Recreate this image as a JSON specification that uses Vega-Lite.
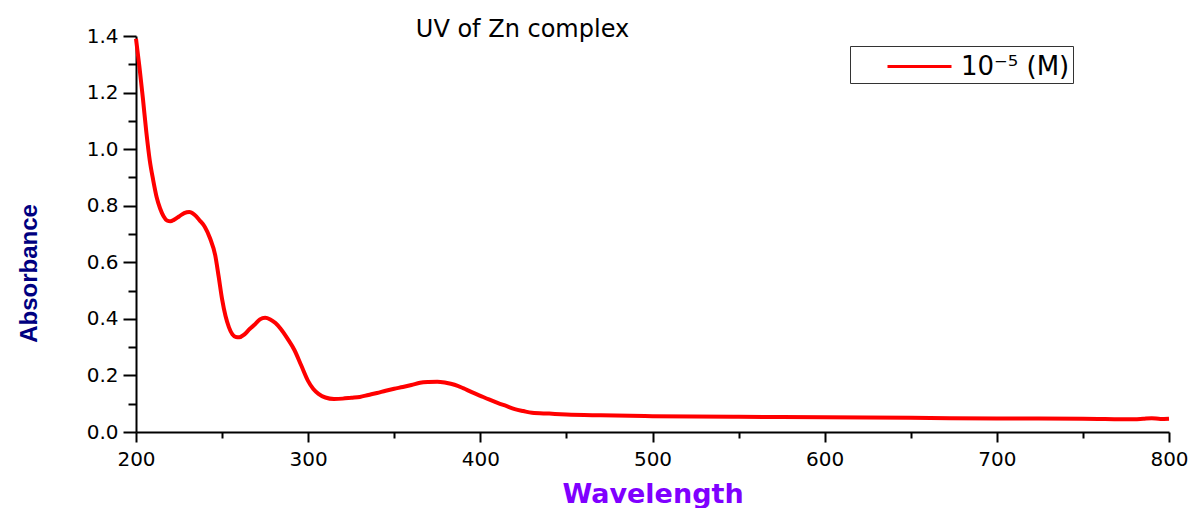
{
  "$schema": "https://vega.github.io/schema/vega-lite/v6.json",
  "width": 1033,
  "height": 396,
  "autosize": "none",
  "padding": {"left": 136, "top": 36, "right": 27, "bottom": 76},
  "background": "white",
  "title": {
    "text": "UV of Zn complex",
    "font": "DejaVu Sans",
    "fontSize": 24,
    "fontWeight": "normal",
    "color": "black",
    "anchor": "middle",
    "dx": -130,
    "offset": -16
  },
  "data": {
    "values": [
      {"w": 200, "a": 1.39}, {"w": 202, "a": 1.29}, {"w": 204, "a": 1.18}, {"w": 206, "a": 1.06},
      {"w": 208, "a": 0.96}, {"w": 210, "a": 0.89}, {"w": 212, "a": 0.83}, {"w": 214, "a": 0.79},
      {"w": 216, "a": 0.763}, {"w": 218, "a": 0.748}, {"w": 220, "a": 0.745}, {"w": 222, "a": 0.75},
      {"w": 225, "a": 0.762}, {"w": 228, "a": 0.774}, {"w": 231, "a": 0.778}, {"w": 234, "a": 0.768},
      {"w": 237, "a": 0.748}, {"w": 240, "a": 0.725}, {"w": 243, "a": 0.685}, {"w": 246, "a": 0.625},
      {"w": 248, "a": 0.55}, {"w": 250, "a": 0.47}, {"w": 252, "a": 0.41}, {"w": 254, "a": 0.37},
      {"w": 256, "a": 0.345}, {"w": 258, "a": 0.336}, {"w": 260, "a": 0.335}, {"w": 263, "a": 0.345},
      {"w": 266, "a": 0.364}, {"w": 269, "a": 0.38}, {"w": 272, "a": 0.398}, {"w": 275, "a": 0.404},
      {"w": 278, "a": 0.398}, {"w": 281, "a": 0.385}, {"w": 284, "a": 0.365}, {"w": 288, "a": 0.33},
      {"w": 292, "a": 0.29}, {"w": 296, "a": 0.235}, {"w": 300, "a": 0.18}, {"w": 303, "a": 0.152},
      {"w": 306, "a": 0.135}, {"w": 310, "a": 0.122}, {"w": 315, "a": 0.117}, {"w": 320, "a": 0.118},
      {"w": 325, "a": 0.121}, {"w": 330, "a": 0.124}, {"w": 335, "a": 0.131}, {"w": 340, "a": 0.138},
      {"w": 345, "a": 0.146}, {"w": 350, "a": 0.153}, {"w": 355, "a": 0.159}, {"w": 360, "a": 0.166},
      {"w": 365, "a": 0.174}, {"w": 370, "a": 0.177}, {"w": 375, "a": 0.178}, {"w": 380, "a": 0.174},
      {"w": 385, "a": 0.167}, {"w": 390, "a": 0.155}, {"w": 395, "a": 0.141}, {"w": 400, "a": 0.128},
      {"w": 405, "a": 0.115}, {"w": 410, "a": 0.103}, {"w": 415, "a": 0.092}, {"w": 420, "a": 0.081},
      {"w": 425, "a": 0.074}, {"w": 430, "a": 0.068}, {"w": 440, "a": 0.065}, {"w": 450, "a": 0.062},
      {"w": 470, "a": 0.059}, {"w": 500, "a": 0.056}, {"w": 550, "a": 0.054}, {"w": 600, "a": 0.052},
      {"w": 650, "a": 0.05}, {"w": 700, "a": 0.048}, {"w": 750, "a": 0.047}, {"w": 780, "a": 0.045},
      {"w": 785, "a": 0.047}, {"w": 790, "a": 0.049}, {"w": 795, "a": 0.046}, {"w": 800, "a": 0.047}
    ]
  },
  "mark": {"type": "line", "strokeWidth": 4, "interpolate": "monotone", "clip": false},
  "encoding": {
    "x": {
      "field": "w",
      "type": "quantitative",
      "scale": {"domain": [200, 800], "nice": false, "zero": false},
      "axis": {
        "title": "Wavelength",
        "titleFont": "DejaVu Sans",
        "titleFontWeight": "bold",
        "titleFontSize": 27,
        "titleColor": "#7f00ff",
        "titlePadding": 12,
        "values": [200, 250, 300, 350, 400, 450, 500, 550, 600, 650, 700, 750, 800],
        "labelExpr": "datum.value % 100 === 0 ? format(datum.value, 'd') : ''",
        "labelFont": "DejaVu Sans",
        "labelFontSize": 20,
        "labelColor": "black",
        "labelOverlap": false,
        "labelPadding": 7,
        "labelFlush": false,
        "grid": false,
        "domainColor": "black",
        "domainWidth": 2,
        "tickColor": "black",
        "tickWidth": 2,
        "tickSize": {"condition": {"test": "datum.value % 100 === 0", "value": 10}, "value": 6}
      }
    },
    "y": {
      "field": "a",
      "type": "quantitative",
      "scale": {"domain": [0, 1.4], "nice": false},
      "axis": {
        "title": "Absorbance",
        "titleFont": "Liberation Sans",
        "titleFontWeight": "bold",
        "titleFontSize": 24,
        "titleColor": "#000080",
        "titleX": -95,
        "titleY": 237,
        "titleAngle": -90,
        "titleAlign": "center",
        "titleBaseline": "bottom",
        "values": [0, 0.1, 0.2, 0.3, 0.4, 0.5, 0.6, 0.7, 0.8, 0.9, 1.0, 1.1, 1.2, 1.3, 1.4],
        "labelExpr": "round(datum.value * 10) % 2 === 0 ? format(datum.value, '.1f') : ''",
        "labelFont": "DejaVu Sans",
        "labelFontSize": 20,
        "labelColor": "black",
        "labelOverlap": false,
        "labelPadding": 5,
        "labelFlush": false,
        "grid": false,
        "domainColor": "black",
        "domainWidth": 2,
        "tickColor": "black",
        "tickWidth": 2,
        "tickSize": {"condition": {"test": "round(datum.value * 10) % 2 === 0", "value": 13}, "value": 8}
      }
    },
    "color": {
      "datum": "10⁻⁵ (M)",
      "type": "nominal",
      "scale": {"range": ["#ff0000"]},
      "legend": {
        "title": null,
        "orient": "none",
        "legendX": 714,
        "legendY": 10,
        "symbolType": "M-2,0H2",
        "symbolStrokeWidth": 3,
        "symbolSize": 1024,
        "symbolOffset": 49,
        "labelOffset": 24,
        "labelFont": "DejaVu Sans",
        "labelFontSize": 26,
        "labelColor": "black",
        "strokeColor": "#333333",
        "fillColor": "white",
        "padding": 3
      }
    }
  },
  "config": {"view": {"stroke": null}}
}
